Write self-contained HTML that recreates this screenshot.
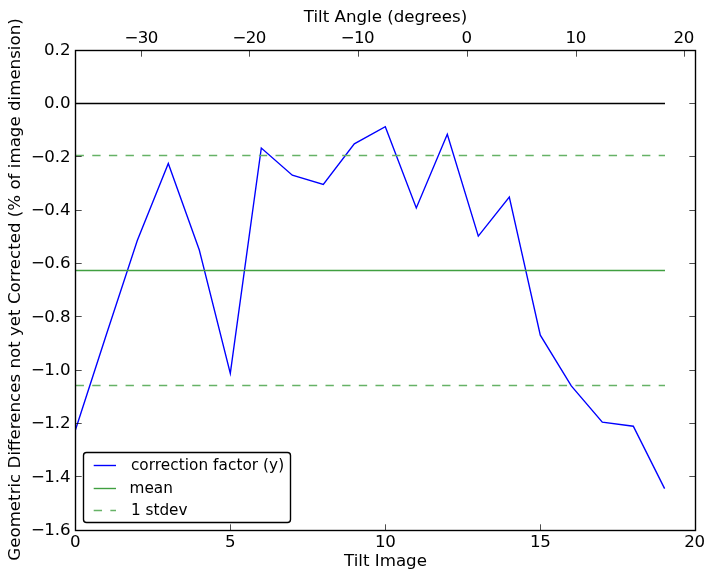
<!DOCTYPE html>
<html lang="en"><head><meta charset="utf-8"><title>Tilt correction plot</title>
<style>html,body{margin:0;padding:0;background:#fff;}svg{display:block;}text{font-family:"DejaVu Sans","Liberation Sans",sans-serif;fill:#000;}.t{font-size:16.67px;}.lg{font-size:15.28px;}</style></head><body>
<svg width="714" height="579" viewBox="0 0 714 579">
<rect width="714" height="579" fill="#fff"/>
<clipPath id="ax"><rect x="75.3" y="50.3" width="620" height="480"/></clipPath>
<g fill="none" stroke-width="1.39" clip-path="url(#ax)">
<polyline points="75.30,430.40 106.30,334.80 137.30,240.50 168.30,163.40 199.30,250.00 230.30,373.30 261.30,148.00 292.30,175.20 323.30,184.40 354.30,143.80 385.30,126.70 416.30,208.00 447.30,134.20 478.30,236.10 509.30,197.00 540.30,335.20 571.30,385.90 602.30,422.20 633.30,426.20 664.30,488.00" stroke="#0000ff" stroke-linejoin="miter" stroke-miterlimit="10" stroke-linecap="square"/>
<line x1="75.30" y1="103.50" x2="664.30" y2="103.50" stroke="#000" stroke-linecap="square"/>
<line x1="75.30" y1="270.50" x2="664.30" y2="270.50" stroke="#409f40" stroke-linecap="square"/>
<line x1="75.60" y1="155.50" x2="665.00" y2="155.50" stroke="#66b266" stroke-dasharray="8.33 8.33"/>
<line x1="75.60" y1="385.50" x2="665.00" y2="385.50" stroke="#66b266" stroke-dasharray="8.33 8.33"/>
</g>
<g stroke="#000" stroke-width="0.7">
<line x1="75.50" y1="530.50" x2="75.50" y2="524.30"/>
<line x1="230.50" y1="530.50" x2="230.50" y2="524.30"/>
<line x1="385.50" y1="530.50" x2="385.50" y2="524.30"/>
<line x1="540.50" y1="530.50" x2="540.50" y2="524.30"/>
<line x1="695.50" y1="530.50" x2="695.50" y2="524.30"/>
<line x1="141.50" y1="50.50" x2="141.50" y2="56.70"/>
<line x1="249.50" y1="50.50" x2="249.50" y2="56.70"/>
<line x1="358.50" y1="50.50" x2="358.50" y2="56.70"/>
<line x1="467.50" y1="50.50" x2="467.50" y2="56.70"/>
<line x1="576.50" y1="50.50" x2="576.50" y2="56.70"/>
<line x1="684.50" y1="50.50" x2="684.50" y2="56.70"/>
<line x1="75.50" y1="50.50" x2="81.70" y2="50.50"/>
<line x1="695.50" y1="50.50" x2="689.30" y2="50.50"/>
<line x1="75.50" y1="103.50" x2="81.70" y2="103.50"/>
<line x1="695.50" y1="103.50" x2="689.30" y2="103.50"/>
<line x1="75.50" y1="156.50" x2="81.70" y2="156.50"/>
<line x1="695.50" y1="156.50" x2="689.30" y2="156.50"/>
<line x1="75.50" y1="210.50" x2="81.70" y2="210.50"/>
<line x1="695.50" y1="210.50" x2="689.30" y2="210.50"/>
<line x1="75.50" y1="263.50" x2="81.70" y2="263.50"/>
<line x1="695.50" y1="263.50" x2="689.30" y2="263.50"/>
<line x1="75.50" y1="316.50" x2="81.70" y2="316.50"/>
<line x1="695.50" y1="316.50" x2="689.30" y2="316.50"/>
<line x1="75.50" y1="370.50" x2="81.70" y2="370.50"/>
<line x1="695.50" y1="370.50" x2="689.30" y2="370.50"/>
<line x1="75.50" y1="423.50" x2="81.70" y2="423.50"/>
<line x1="695.50" y1="423.50" x2="689.30" y2="423.50"/>
<line x1="75.50" y1="476.50" x2="81.70" y2="476.50"/>
<line x1="695.50" y1="476.50" x2="689.30" y2="476.50"/>
<line x1="75.50" y1="530.50" x2="81.70" y2="530.50"/>
<line x1="695.50" y1="530.50" x2="689.30" y2="530.50"/>
</g>
<rect x="75.50" y="50.50" width="620.00" height="480.00" fill="none" stroke="#000" stroke-width="1.39"/>
<g class="t">
<text x="75.20" y="546.7" text-anchor="middle">0</text>
<text x="230.20" y="546.7" text-anchor="middle">5</text>
<text x="385.20" y="546.7" text-anchor="middle" style="letter-spacing:-0.4px">10</text>
<text x="540.20" y="546.7" text-anchor="middle" style="letter-spacing:-0.4px">15</text>
<text x="694.40" y="546.7" text-anchor="middle" style="letter-spacing:-0.4px">20</text>
<text x="140.80" y="43.0" text-anchor="middle" style="letter-spacing:-0.4px"><tspan dx="0.5">−</tspan><tspan dx="-0.5">30</tspan></text>
<text x="248.80" y="43.0" text-anchor="middle" style="letter-spacing:-0.4px"><tspan dx="0.5">−</tspan><tspan dx="-0.5">20</tspan></text>
<text x="357.10" y="43.0" text-anchor="middle" style="letter-spacing:-0.4px"><tspan dx="0.5">−</tspan><tspan dx="-0.5">10</tspan></text>
<text x="466.80" y="43.0" text-anchor="middle">0</text>
<text x="575.80" y="43.0" text-anchor="middle" style="letter-spacing:-0.4px">10</text>
<text x="683.80" y="43.0" text-anchor="middle" style="letter-spacing:-0.4px">20</text>
<text x="70.5" y="55.10" text-anchor="end">0.2</text>
<text x="70.5" y="108.43" text-anchor="end">0.0</text>
<text x="69.8" y="161.77" text-anchor="end"><tspan dx="0.85">−</tspan><tspan dx="-0.85">0.2</tspan></text>
<text x="69.8" y="215.10" text-anchor="end"><tspan dx="0.85">−</tspan><tspan dx="-0.85">0.4</tspan></text>
<text x="69.8" y="268.43" text-anchor="end"><tspan dx="0.85">−</tspan><tspan dx="-0.85">0.6</tspan></text>
<text x="69.8" y="321.77" text-anchor="end"><tspan dx="0.85">−</tspan><tspan dx="-0.85">0.8</tspan></text>
<text x="69.8" y="375.10" text-anchor="end"><tspan dx="0.85">−</tspan><tspan dx="-0.85">1.0</tspan></text>
<text x="69.8" y="428.43" text-anchor="end"><tspan dx="0.85">−</tspan><tspan dx="-0.85">1.2</tspan></text>
<text x="69.8" y="481.77" text-anchor="end"><tspan dx="0.85">−</tspan><tspan dx="-0.85">1.4</tspan></text>
<text x="69.8" y="535.10" text-anchor="end"><tspan dx="0.85">−</tspan><tspan dx="-0.85">1.6</tspan></text>
<text x="385.5" y="565.7" text-anchor="middle">Tilt Image</text>
<text x="385.5" y="21.7" text-anchor="middle">Tilt Angle (degrees)</text>
<text transform="translate(20.1,289.5) rotate(-90)" text-anchor="middle">Geometric Differences not yet Corrected (% of image dimension)</text>
</g>
<rect x="83.5" y="452.5" width="207.0" height="70" rx="3.06" ry="3.06" fill="#fff" stroke="#000" stroke-width="1.39"/>
<g fill="none" stroke-width="1.39">
<line x1="93.7" y1="465.5" x2="116.0" y2="465.5" stroke="#0000ff"/>
<line x1="93.7" y1="488.5" x2="116.0" y2="488.5" stroke="#409f40"/>
<line x1="93.7" y1="510.5" x2="116.0" y2="510.5" stroke="#66b266" stroke-dasharray="8.33 8.33"/>
</g>
<g class="lg">
<text x="130.9" y="470.2" style="letter-spacing:0.06px">correction factor (y)</text>
<text x="129.6" y="492.7">mean</text>
<text x="130.9" y="515.0">1 stdev</text>
</g>
</svg></body></html>
